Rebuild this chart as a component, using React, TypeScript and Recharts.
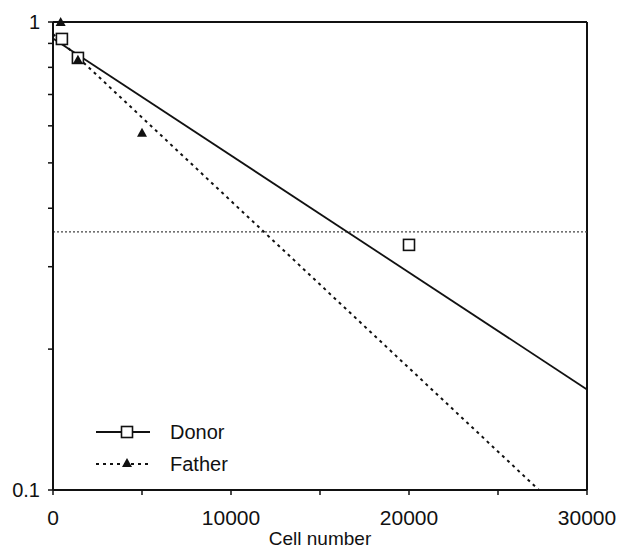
import {
  ScatterChart,
  Scatter,
  XAxis,
  YAxis,
  ReferenceLine,
} from 'recharts';

const FONT = '"Liberation Sans", Arial, Helvetica, sans-serif';

// measured points
const donorPoints = [
  { x: 500, y: 0.92 },
  { x: 1400, y: 0.838 },
  { x: 20000, y: 0.334 },
];
const fatherPoints = [
  { x: 430, y: 1.0 },
  { x: 1400, y: 0.83 },
  { x: 5000, y: 0.58 },
];

// fitted lines (straight on log scale, endpoints only)
const donorFit = [
  { x: 0, y: 0.922 },
  { x: 30000, y: 0.164 },
];
const fatherFit = [
  { x: 0, y: 0.943 },
  { x: 27300, y: 0.1 },
];

const threshold = 0.356;

const xTicks = [0, 5000, 10000, 15000, 20000, 25000, 30000];
const xLabelled = [0, 10000, 20000, 30000];
const yTicks = [0.1, 0.2, 0.3, 0.4, 0.5, 0.6, 0.7, 0.8, 0.9, 1];
const yLabelled = [0.1, 1];

const noDot = () => <g />;

const Square = (props: any) => {
  const { cx, cy } = props;
  if (cx == null || cy == null) return <g />;
  return (
    <rect
      x={cx - 5.5}
      y={cy - 5.5}
      width={11}
      height={11}
      fill="#fff"
      stroke="#111"
      strokeWidth={1.6}
    />
  );
};

const Triangle = (props: any) => {
  const { cx, cy } = props;
  if (cx == null || cy == null) return <g />;
  return (
    <polygon
      points={`${cx},${cy - 5} ${cx - 5},${cy + 4} ${cx + 5},${cy + 4}`}
      fill="#111"
    />
  );
};

function LegendBox() {
  return (
    <svg
      width={200}
      height={70}
      style={{ position: 'absolute', left: 90, top: 415, overflow: 'visible' }}
    >
      <line x1={6} y1={17} x2={60} y2={17} stroke="#111" strokeWidth={1.8} />
      <Square cx={37} cy={17} />
      <text x={80} y={24} fontSize={20} fontFamily={FONT} fill="#111">
        Donor
      </text>
      <line
        x1={6}
        y1={49}
        x2={60}
        y2={49}
        stroke="#111"
        strokeWidth={2}
        strokeDasharray="3 4"
      />
      <Triangle cx={37} cy={48} />
      <text x={80} y={56} fontSize={20} fontFamily={FONT} fill="#111">
        Father
      </text>
    </svg>
  );
}

export default function App() {
  return (
    <div
      style={{
        position: 'absolute',
        left: 0,
        top: 0,
        width: 619,
        height: 549,
        background: '#fff',
      }}
    >
      <ScatterChart
        width={619}
        height={549}
        margin={{ top: 22, right: 32, left: 0, bottom: 0 }}
      >
        <XAxis
          type="number"
          dataKey="x"
          domain={[0, 30000]}
          ticks={xTicks}
          interval={0}
          tickFormatter={(v) => (xLabelled.includes(v) ? String(v) : '')}
          tick={{ fill: '#111', fontSize: 21, fontFamily: FONT }}
          tickSize={5}
          tickMargin={15}
          axisLine={{ stroke: '#111', strokeWidth: 2 }}
          tickLine={{ stroke: '#111', strokeWidth: 1.5 }}
          height={59}
          label={{
            value: 'Cell number',
            position: 'insideBottom',
            offset: 4,
            fill: '#111',
            fontSize: 19,
            fontFamily: FONT,
          }}
        />
        <YAxis
          type="number"
          dataKey="y"
          scale="log"
          domain={[0.1, 1]}
          ticks={yTicks}
          interval={0}
          tickFormatter={(v) => (yLabelled.includes(v) ? String(v) : '')}
          tick={{ fill: '#111', fontSize: 20, fontFamily: FONT }}
          tickSize={5}
          tickMargin={8}
          axisLine={{ stroke: '#111', strokeWidth: 2 }}
          tickLine={{ stroke: '#111', strokeWidth: 1.5 }}
          width={53}
        />
        <ReferenceLine y={1} stroke="#111" strokeWidth={2} />
        <ReferenceLine x={30000} stroke="#111" strokeWidth={2} />
        <ReferenceLine
          y={threshold}
          stroke="#444"
          strokeWidth={1.2}
          strokeDasharray="2 2"
        />
        <Scatter
          data={donorFit}
          line={{ stroke: '#111', strokeWidth: 1.8 }}
          shape={noDot}
          isAnimationActive={false}
        />
        <Scatter
          data={fatherFit}
          line={{ stroke: '#111', strokeWidth: 2, strokeDasharray: '3 4' }}
          shape={noDot}
          isAnimationActive={false}
        />
        <Scatter
          data={donorPoints}
          shape={<Square />}
          isAnimationActive={false}
        />
        <Scatter
          data={fatherPoints}
          shape={<Triangle />}
          isAnimationActive={false}
        />
      </ScatterChart>
      <LegendBox />
    </div>
  );
}
